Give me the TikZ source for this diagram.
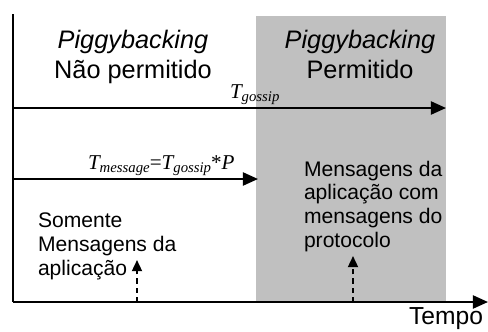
\documentclass[tikz,border=0pt]{standalone}
\usepackage{fontspec}
\setmainfont{Liberation Sans}
\newfontfamily\timesfont{Liberation Serif}
\usetikzlibrary{arrows.meta}
\definecolor{phasegray}{RGB}{192,192,192}
\newcommand{\Tlab}[1]{{\timesfont\itshape T\raisebox{-0.35ex}{\fontsize{10.5}{12}\selectfont #1}}}
\begin{document}
\begin{tikzpicture}[x=0.025cm,y=-0.025cm,
    line width=0.05cm,
    bigtip/.style={-{Triangle[length=0.38cm,width=0.33cm]}},
    smalltip/.style={-{Triangle[length=0.28cm,width=0.25cm]}},
    title/.style={font=\fontsize{18}{21.3}\selectfont,align=center,inner sep=0pt},
    body/.style={font=\fontsize{15}{16.8}\selectfont,align=left,inner sep=0pt,anchor=base west},
    tlabel/.style={font=\fontsize{15}{18}\selectfont,inner sep=0pt,anchor=base west}]
    \useasboundingbox (0,0) rectangle (488,331);
    \fill[phasegray] (256,16) rectangle (446,301);
    % axes
    \coordinate (top) at (13,14);
    \coordinate (orig) at (13,302);
    \coordinate (tend) at (488,302);
    \draw (top) -- (orig);
    \draw[bigtip] (orig) -- (tend);
    \node[anchor=north east,inner sep=0pt,font=\fontsize{17.5}{20}\selectfont] (tempo) at (484,307) {Tempo};
    % periods
    \coordinate (g0) at (13,108);
    \coordinate (g1) at (446,108);
    \draw[bigtip] (g0) -- (g1);
    \node[tlabel] (tg) at (229,98) {\Tlab{gossip}};
    \coordinate (m0) at (13,179);
    \coordinate (m1) at (258,179);
    \draw[bigtip] (m0) -- (m1);
    \node[tlabel] (tm) at (87,169) {\Tlab{message}{\timesfont=}\Tlab{gossip}{\timesfont*\itshape P}};
    % phases
    \node[title,anchor=base] (nao) at (133,78) {\textit{Piggybacking}\\Não permitido};
    \node[title,anchor=base] (sim) at (360,78) {\textit{Piggybacking}\\Permitido};
    \node[body] (app) at (37,275) {Somente\\Mensagens da\\aplicação};
    \node[body] (prot) at (303,247) {Mensagens da\\aplicação com\\mensagens do\\protocolo};
    % events
    \coordinate (e1) at (137,302);
    \coordinate (e2) at (353,302);
    \draw[smalltip,dash pattern=on 0.13cm off 0.1cm] (e1) -- (137,260);
    \draw[smalltip,dash pattern=on 0.13cm off 0.1cm] (e2) -- (353,256);
\end{tikzpicture}
\end{document}
